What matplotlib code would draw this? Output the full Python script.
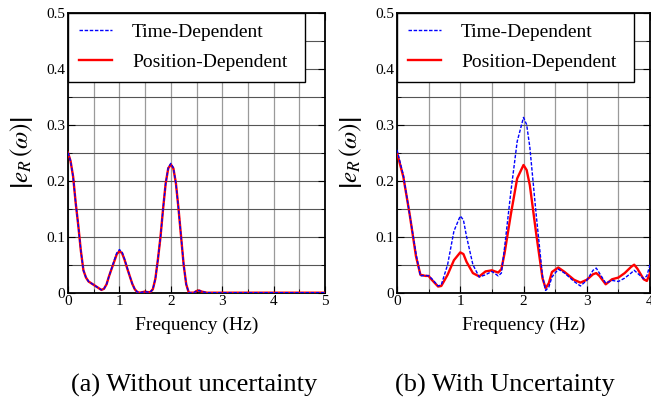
import numpy as np
import matplotlib
matplotlib.use('Agg')
import matplotlib.pyplot as plt

plt.rcParams['font.family'] = ['Liberation Serif', 'DejaVu Serif']
plt.rcParams['mathtext.fontset'] = 'stix'

# (a) Without uncertainty -- both curves nearly identical
freq_a = [0, 0.05, 0.1, 0.15, 0.2, 0.25, 0.3, 0.35, 0.4, 0.5, 0.6, 0.65, 0.7, 0.75,
          0.8, 0.9, 0.95, 1.0, 1.05, 1.1, 1.15, 1.2, 1.25, 1.3, 1.35, 1.4, 1.45, 1.5,
          1.55, 1.6, 1.65, 1.7, 1.75, 1.8, 1.85, 1.9, 1.95, 2.0, 2.05, 2.1, 2.15, 2.2,
          2.25, 2.3, 2.35, 2.45, 2.5, 2.55, 2.6, 2.7, 3.0, 4.0, 5.0]
time_a = [0.25, 0.235, 0.207, 0.16, 0.12, 0.075, 0.04, 0.027, 0.02, 0.014, 0.008, 0.005,
          0.007, 0.015, 0.03, 0.058, 0.071, 0.077, 0.073, 0.06, 0.045, 0.03, 0.016, 0.006,
          0.001, 0.0, 0.001, 0.002, 0.001, 0.001, 0.006, 0.025, 0.06, 0.1, 0.15, 0.195,
          0.223, 0.231, 0.223, 0.195, 0.15, 0.1, 0.05, 0.015, 0.0, 0.0, 0.003, 0.004,
          0.002, 0.0, 0.0, 0.0, 0.0]
pos_a = [0.25, 0.235, 0.207, 0.16, 0.12, 0.075, 0.04, 0.027, 0.02, 0.014, 0.008, 0.005,
         0.007, 0.015, 0.03, 0.056, 0.069, 0.074, 0.071, 0.059, 0.044, 0.03, 0.016, 0.006,
         0.001, 0.0, 0.001, 0.002, 0.001, 0.001, 0.006, 0.025, 0.06, 0.1, 0.15, 0.195,
         0.222, 0.229, 0.222, 0.195, 0.15, 0.1, 0.05, 0.015, 0.0, 0.0, 0.003, 0.004,
         0.002, 0.0, 0.0, 0.0, 0.0]

# (b) With uncertainty
freq_b = [0, 0.1, 0.2, 0.3, 0.37, 0.45, 0.5, 0.55, 0.65, 0.7, 0.8, 0.9, 1.0, 1.05, 1.1,
          1.2, 1.3, 1.4, 1.5, 1.6, 1.65, 1.7, 1.8, 1.9, 2.0, 2.05, 2.1, 2.2, 2.3, 2.35,
          2.4, 2.45, 2.55, 2.65, 2.8, 2.9, 3.0, 3.1, 3.15, 3.2, 3.3, 3.4, 3.5, 3.6, 3.7,
          3.75, 3.8, 3.9, 3.95, 4.0]
time_b = [0.255, 0.21, 0.14, 0.07, 0.03, 0.031, 0.03, 0.025, 0.012, 0.014, 0.05, 0.11,
          0.137, 0.13, 0.1, 0.05, 0.028, 0.032, 0.038, 0.03, 0.035, 0.08, 0.18, 0.27,
          0.313, 0.3, 0.26, 0.14, 0.03, 0.004, 0.01, 0.028, 0.042, 0.035, 0.02, 0.012,
          0.022, 0.04, 0.044, 0.035, 0.017, 0.022, 0.02, 0.026, 0.035, 0.04, 0.035,
          0.025, 0.03, 0.05]
pos_b = [0.25, 0.207, 0.14, 0.065, 0.032, 0.03, 0.03, 0.023, 0.011, 0.012, 0.032, 0.058,
         0.072, 0.069, 0.055, 0.035, 0.029, 0.038, 0.04, 0.036, 0.042, 0.07, 0.14, 0.204,
         0.228, 0.219, 0.192, 0.106, 0.026, 0.008, 0.017, 0.037, 0.045, 0.037, 0.023,
         0.018, 0.023, 0.033, 0.035, 0.03, 0.015, 0.024, 0.027, 0.035, 0.046, 0.05, 0.043,
         0.024, 0.021, 0.035]

captions = ['(a) Without uncertainty', '(b) With Uncertainty']
caption_x = [194, 505]

W, H = 651, 403
fig = plt.figure(figsize=(W / 100, H / 100), dpi=100)

panels = [
    (68, 325, freq_a, time_a, pos_a, 5),
    (397, 650, freq_b, time_b, pos_b, 4),
]

for i, (x0, x1, f, td, pdp, xmax) in enumerate(panels):
    ax = fig.add_axes([x0 / W, 1 - 292.7 / H, (x1 - x0) / W, 280 / H])
    ax.set_xlim(0, xmax)
    ax.set_ylim(0, 0.5)
    ax.set_xticks(np.arange(0, xmax + 0.1, 1))
    ax.set_xticks(np.arange(0, xmax + 0.01, 0.5), minor=True)
    ax.set_yticks(np.arange(0, 0.51, 0.1))
    ax.set_yticks(np.arange(0, 0.51, 0.05), minor=True)
    ax.set_yticklabels(['0', '0.1', '0.2', '0.3', '0.4', '0.5'])
    ax.grid(True, which='both', axis='x', color='#9a9a9a', lw=0.9)
    ax.grid(True, which='both', axis='y', color='#555555', lw=0.8)
    ax.tick_params(which='both', direction='in', top=True, right=True,
                   labelsize=11, pad=2)
    ax.tick_params(which='major', length=5)
    ax.tick_params(which='minor', length=3)
    for s in ax.spines.values():
        s.set_linewidth(1.3)

    ax.plot(f, pdp, color='red', lw=1.7, label='Position-Dependent', zorder=3)
    ax.plot(f, td, color='blue', lw=1.0, dashes=(2.5, 1.2), label='Time-Dependent', zorder=4)

    handles, labels = ax.get_legend_handles_labels()
    leg = ax.legend(handles[::-1], labels[::-1], loc='upper left',
                    bbox_to_anchor=(0, 1, 237 / (x1 - x0), 0), mode='expand',
                    borderaxespad=0, fancybox=False, framealpha=1,
                    edgecolor='black', fontsize=14, handlelength=1.7,
                    handletextpad=1.05, borderpad=0.55, labelspacing=0.65)
    leg.get_frame().set_linewidth(1.0)
    leg.set_zorder(10)

    ax.set_xlabel('Frequency (Hz)', fontsize=14, labelpad=6)
    ax.set_ylabel(r'$\left|e_{R}\,(\omega)\right|$', fontsize=18, labelpad=8)

    fig.text(caption_x[i] / W, 1 - 385 / H, captions[i], ha='center', va='center',
             fontsize=19)

fig.savefig('out.png', dpi=100)
